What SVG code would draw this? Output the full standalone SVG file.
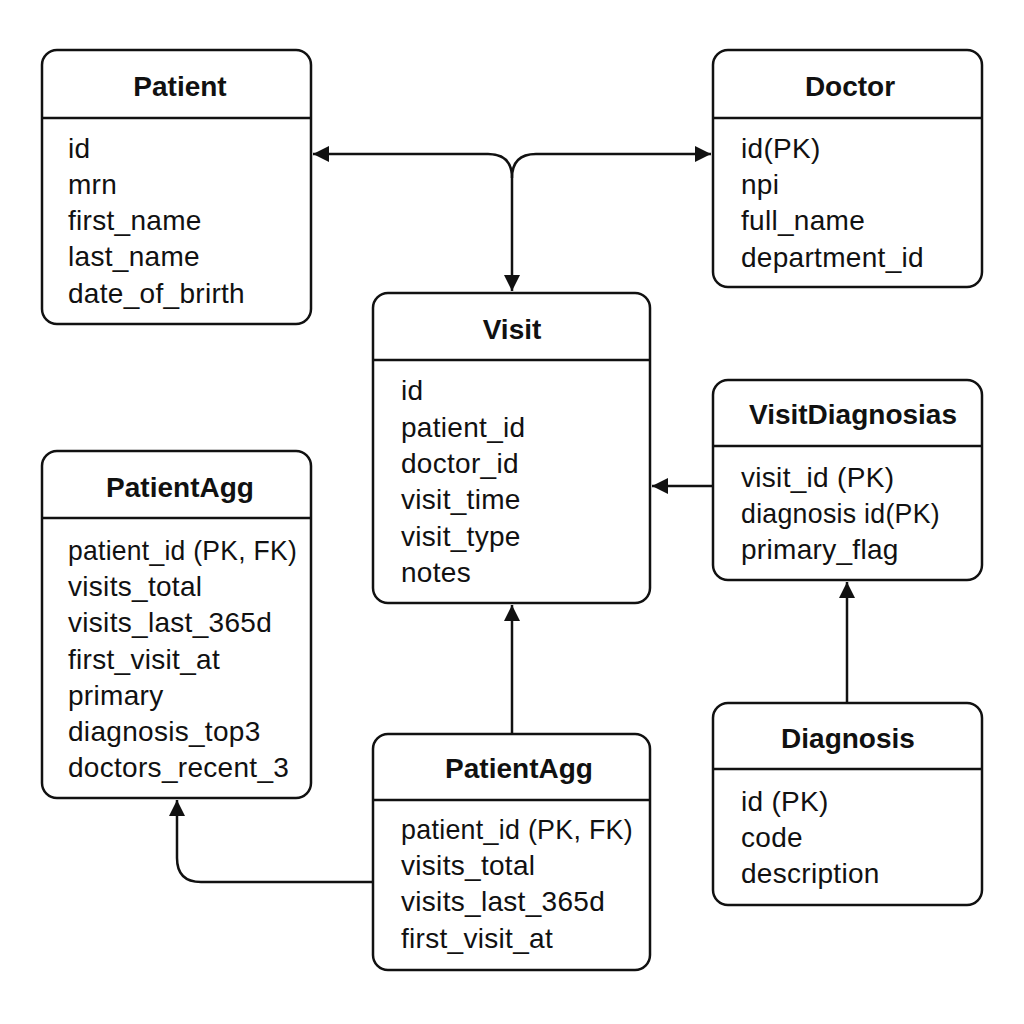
<svg xmlns="http://www.w3.org/2000/svg" width="1024" height="1024" viewBox="0 0 1024 1024">
<style>
.box{fill:#fff;stroke:#111;stroke-width:2.5}
.hl{stroke:#111;stroke-width:2.5}
.t{font-family:"Liberation Sans",Arial,sans-serif;font-size:28px;font-weight:bold;fill:#111;text-anchor:middle}
.r{font-family:"Liberation Sans",Arial,sans-serif;font-size:28px;letter-spacing:0.3px;fill:#111}
.c{fill:none;stroke:#111;stroke-width:2.5}
</style>
<defs>
<marker id="ah" markerUnits="userSpaceOnUse" markerWidth="18" markerHeight="16" refX="16" refY="8" orient="auto">
<path d="M0,0 L16,8 L0,16 Z" fill="#111"/>
</marker>
</defs>
<rect width="1024" height="1024" fill="#fff"/>
<g id="connectors">
<path class="c" d="M512,178 L512,291" marker-end="url(#ah)"/>
<path class="c" d="M512,178 Q512,154 488,154 L313,154" marker-end="url(#ah)"/>
<path class="c" d="M512,178 Q512,154 536,154 L711,154" marker-end="url(#ah)"/>
<path class="c" d="M713,486 L652,486" marker-end="url(#ah)"/>
<path class="c" d="M847,703 L847,582" marker-end="url(#ah)"/>
<path class="c" d="M512,734 L512,605" marker-end="url(#ah)"/>
<path class="c" d="M373,882 L201,882 Q177,882 177,858 L177,800" marker-end="url(#ah)"/>
</g>
<g id="patient">
<rect class="box" x="42" y="50" width="269" height="274" rx="15"/>
<line class="hl" x1="42" y1="118" x2="311" y2="118"/>
<text class="t" x="180" y="96">Patient</text>
<text class="r" x="68" y="158">id</text>
<text class="r" x="68" y="194">mrn</text>
<text class="r" x="68" y="230">first_name</text>
<text class="r" x="68" y="266">last_name</text>
<text class="r" x="68" y="303">date_of_brirth</text>
</g>
<g id="doctor">
<rect class="box" x="713" y="50" width="269" height="237" rx="15"/>
<line class="hl" x1="713" y1="118" x2="982" y2="118"/>
<text class="t" x="850" y="96">Doctor</text>
<text class="r" x="741" y="158">id(PK)</text>
<text class="r" x="741" y="194">npi</text>
<text class="r" x="741" y="230">full_name</text>
<text class="r" x="741" y="267">department_id</text>
</g>
<g id="visit">
<rect class="box" x="373" y="293" width="277" height="310" rx="15"/>
<line class="hl" x1="373" y1="360" x2="650" y2="360"/>
<text class="t" x="512" y="339">Visit</text>
<text class="r" x="401" y="400">id</text>
<text class="r" x="401" y="437">patient_id</text>
<text class="r" x="401" y="473">doctor_id</text>
<text class="r" x="401" y="509">visit_time</text>
<text class="r" x="401" y="546">visit_type</text>
<text class="r" x="401" y="582">notes</text>
</g>
<g id="visitdiagnosias">
<rect class="box" x="713" y="380" width="269" height="200" rx="15"/>
<line class="hl" x1="713" y1="446" x2="982" y2="446"/>
<text class="t" x="853" y="424">VisitDiagnosias</text>
<text class="r" x="741" y="487">visit_id (PK)</text>
<text class="r" x="741" y="523" textLength="199" lengthAdjust="spacingAndGlyphs">diagnosis id(PK)</text>
<text class="r" x="741" y="559">primary_flag</text>
</g>
<g id="patientagg-left">
<rect class="box" x="42" y="451" width="269" height="347" rx="15"/>
<line class="hl" x1="42" y1="518" x2="311" y2="518"/>
<text class="t" x="180" y="497">PatientAgg</text>
<text class="r" x="68" y="560" textLength="229" lengthAdjust="spacingAndGlyphs">patient_id (PK, FK)</text>
<text class="r" x="68" y="596">visits_total</text>
<text class="r" x="68" y="632">visits_last_365d</text>
<text class="r" x="68" y="669">first_visit_at</text>
<text class="r" x="68" y="705">primary</text>
<text class="r" x="68" y="741">diagnosis_top3</text>
<text class="r" x="68" y="777">doctors_recent_3</text>
</g>
<g id="patientagg-bottom">
<rect class="box" x="373" y="734" width="277" height="236" rx="15"/>
<line class="hl" x1="373" y1="800" x2="650" y2="800"/>
<text class="t" x="519" y="778">PatientAgg</text>
<text class="r" x="401" y="839" textLength="232" lengthAdjust="spacingAndGlyphs">patient_id (PK,  FK)</text>
<text class="r" x="401" y="875">visits_total</text>
<text class="r" x="401" y="911">visits_last_365d</text>
<text class="r" x="401" y="948">first_visit_at</text>
</g>
<g id="diagnosis">
<rect class="box" x="713" y="703" width="269" height="202" rx="15"/>
<line class="hl" x1="713" y1="769" x2="982" y2="769"/>
<text class="t" x="848" y="748">Diagnosis</text>
<text class="r" x="741" y="811">id (PK)</text>
<text class="r" x="741" y="847">code</text>
<text class="r" x="741" y="883">description</text>
</g>
</svg>
